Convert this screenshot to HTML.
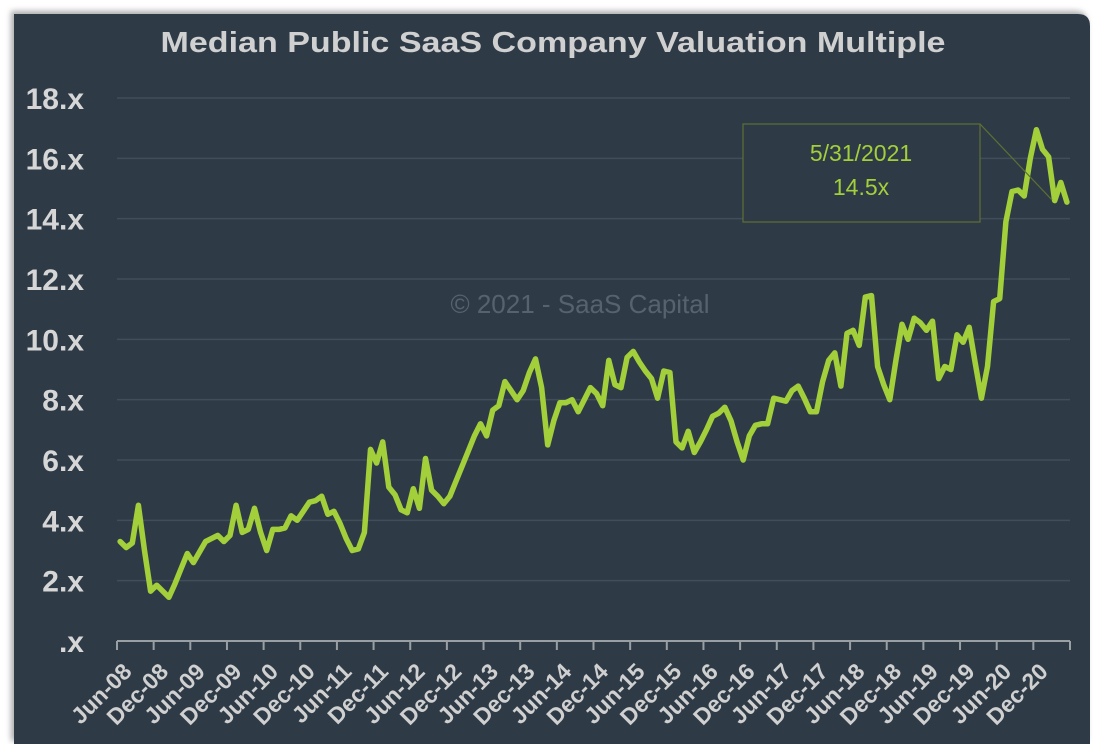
<!DOCTYPE html>
<html><head><meta charset="utf-8"><style>
html,body{margin:0;padding:0;background:#fff;}
svg{display:block;font-family:"Liberation Sans",sans-serif;}
</style></head><body>
<svg width="1093" height="744" viewBox="0 0 1093 744">
<defs><filter id="sh" x="-5%" y="-5%" width="110%" height="110%"><feDropShadow dx="-3" dy="-3" stdDeviation="3" flood-color="#888" flood-opacity="0.7"/></filter></defs>
<path d="M14 14 H1078 Q1090 14 1090 26 V744 H14 Z" fill="#2e3a46" filter="url(#sh)"/>
<text x="553" y="52" text-anchor="middle" font-size="29" font-weight="bold" fill="#d0d0d0" textLength="785" lengthAdjust="spacingAndGlyphs">Median Public SaaS Company Valuation Multiple</text>
<text x="580" y="313" text-anchor="middle" font-size="26" fill="#56636d">© 2021 - SaaS Capital</text>
<g id="grid"></g>
<g id="yl"></g>
<g id="xl"></g>
<line x1="117" y1="641" x2="1070" y2="641" stroke="#9a9fa4" stroke-width="2"/>
<g id="ticks"></g>
<path id="line" fill="none" stroke="#a2cf3a" stroke-width="5.5" stroke-linejoin="round" stroke-linecap="round"/>
<g>
<line x1="980" y1="124" x2="1052" y2="200" stroke="#5d7034" stroke-width="1.2"/>
<rect x="743" y="124" width="237" height="98" fill="#2e3a46" stroke="#5d7034" stroke-width="1.2"/>
<text x="861" y="161" text-anchor="middle" font-size="23" fill="#a2cf3a">5/31/2021</text>
<text x="861" y="195" text-anchor="middle" font-size="23" fill="#a2cf3a">14.5x</text>
</g>
</svg>
<script>
const yTicks=[0,2,4,6,8,10,12,14,16,18];
const yTickLabels=[".x","2.x","4.x","6.x","8.x","10.x","12.x","14.x","16.x","18.x"];
const xTickLabels=["Jun-08","Dec-08","Jun-09","Dec-09","Jun-10","Dec-10","Jun-11","Dec-11","Jun-12","Dec-12","Jun-13","Dec-13","Jun-14","Dec-14","Jun-15","Dec-15","Jun-16","Dec-16","Jun-17","Dec-17","Jun-18","Dec-18","Jun-19","Dec-19","Jun-20","Dec-20"];
const values=[3.3,3.1,3.25,4.5,3.0,1.65,1.85,1.65,1.45,1.9,2.4,2.9,2.6,2.95,3.3,3.4,3.5,3.3,3.5,4.5,3.6,3.7,4.4,3.6,3.0,3.7,3.7,3.75,4.15,4.0,4.3,4.6,4.65,4.8,4.2,4.3,3.9,3.4,3.0,3.05,3.6,6.35,5.9,6.6,5.1,4.85,4.35,4.25,5.05,4.4,6.05,5.0,4.8,4.55,4.8,5.3,5.8,6.3,6.8,7.2,6.8,7.65,7.8,8.6,8.3,8.0,8.3,8.9,9.35,8.4,6.5,7.3,7.9,7.9,8.0,7.6,8.0,8.4,8.2,7.8,9.3,8.5,8.4,9.4,9.6,9.25,8.95,8.7,8.05,8.95,8.9,6.6,6.4,6.95,6.25,6.6,7.0,7.45,7.55,7.75,7.3,6.6,6.0,6.8,7.15,7.2,7.2,8.05,8.0,7.95,8.3,8.45,8.05,7.6,7.6,8.6,9.3,9.55,8.45,10.2,10.3,9.8,11.4,11.45,9.1,8.5,8.0,9.3,10.5,10.0,10.7,10.55,10.3,10.6,8.7,9.1,9.0,10.15,9.9,10.4,9.2,8.05,9.1,11.25,11.35,13.9,14.9,14.95,14.75,16.0,16.95,16.3,16.05,14.6,15.2,14.55];
const NS="http://www.w3.org/2000/svg";
const X0=117,X1=1070,Y0=641,YTOP=98,YMAX=18;
const N=values.length;
const bw=(X1-X0)/N;
function xs(i){return X0+(i+0.5)*bw;}
function ys(v){return Y0-(v/YMAX)*(Y0-YTOP);}
function mk(t,a){const e=document.createElementNS(NS,t);for(const k in a)e.setAttribute(k,a[k]);return e;}
const grid=document.getElementById('grid'),yl=document.getElementById('yl'),xl=document.getElementById('xl'),tk=document.getElementById('ticks');
yTicks.forEach((v,i)=>{
  if(v>0){const g=mk('line',{x1:X0,x2:X1,y1:ys(v),y2:ys(v),stroke:'#414e5a','stroke-width':1.5});
  
  
  grid.appendChild(g);}
  const t=mk('text',{x:84,y:ys(v)+11,'text-anchor':'end','font-size':30,'font-weight':'bold',fill:'#d6d6d6'});
  t.textContent=yTickLabels[i];
  
  
  yl.appendChild(t);
});
for(let k=0;k<=Math.ceil(N/6);k++){
  const x=Math.min(X0+k*6*bw,X1);
  const l=mk('line',{x1:x,x2:x,y1:Y0,y2:Y0+9,stroke:'#9a9fa4','stroke-width':2});
  
  
  tk.appendChild(l);
}
xTickLabels.forEach((s,k)=>{
  const x=X0+k*6*bw+16,y=Y0+32;
  const t=mk('text',{x:x,y:y,'text-anchor':'end','font-size':23,'font-weight':'bold',fill:'#d0d0d0',transform:`rotate(-45 ${x} ${y})`});
  t.textContent=s;
  
  
  xl.appendChild(t);
});
document.getElementById('line').setAttribute('d',values.map((v,i)=>(i?'L':'M')+xs(i).toFixed(1)+' '+ys(v).toFixed(1)).join(' '));
</script>
</body></html>
